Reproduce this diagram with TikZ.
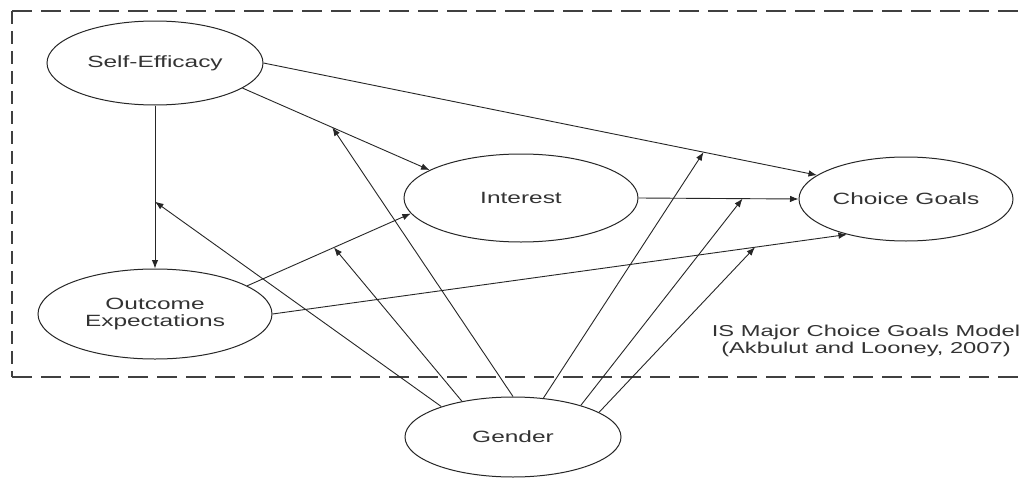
\documentclass[tikz,border=0pt]{standalone}
\usepackage{fontspec}
\setmainfont{Liberation Sans}[FakeStretch=1.5]
\usetikzlibrary{shapes.geometric,arrows.meta}
\begin{document}
\begin{tikzpicture}[x=1pt,y=-1pt,
  ell/.style={ellipse,draw=black!85,line width=1pt,fill=white,inner sep=0pt,align=center,
     font=\fontsize{16.3}{16.5}\selectfont,text=black!80},
  arr/.style={draw=black!85,line width=0.9pt,-{Latex[length=8.5pt,width=6.5pt]}},
  hdash/.style={draw=black!75,line width=2pt,dash pattern=on 20pt off 9pt},
  vdash/.style={draw=black!75,line width=2pt,dash pattern=on 13pt off 7pt},
  lbl/.style={font=\fontsize{15.8}{16.5}\selectfont,text=black!80,align=center,inner sep=0pt}]
\clip (0,0) rectangle (1023,479);
\fill[white] (0,0) rectangle (1023,479);
% dashed frame
\coordinate (ftl) at (12,11);
\coordinate (ftr) at (1050,11);
\coordinate (fbl) at (12,377);
\coordinate (fbr) at (1050,377);
\draw[hdash] (ftl) -- (ftr);
\draw[hdash] (fbl) -- (fbr);
\draw[vdash] (ftl) -- (fbl);
% nodes
\node[ell,minimum width=216pt,minimum height=84pt] (se) at (155,63) {Self-Efficacy};
\node[ell,minimum width=234pt,minimum height=88pt] (int) at (521,198) {Interest};
\node[ell,minimum width=214pt,minimum height=84pt] (cg) at (906,199) {Choice Goals};
\node[ell,minimum width=234pt,minimum height=90pt] (oe) at (155,314) {Outcome\\Expectations};
\node[ell,minimum width=216pt,minimum height=80pt] (gen) at (513,437) {Gender};
\node[lbl,anchor=base] (model) at (866,353) {IS Major Choice Goals Model\\(Akbulut and Looney, 2007)};
% connectors
\draw[arr] (se.south) -- (oe.north) coordinate[pos=0.59] (m1);
\draw[arr] (se.-16) -- (int.163) coordinate[pos=0.48] (m3);
\draw[arr] (se.east) -- (cg.165.5) coordinate[pos=0.795] (m4);
\draw[arr] (int.east) -- (cg.west) coordinate[pos=0.65] (m5);
\draw[arr] (oe.17.3) -- (int.188) coordinate[pos=0.53] (m2);
\draw[arr] (oe.east) -- (cg.211.4) coordinate[pos=0.84] (m6);
% gender moderations
\draw[arr] (gen.157.1) -- (m1);
\draw[arr] (gen.145) -- (m2);
\draw[arr] (gen.north) -- (m3);
\draw[arr] (gen.52.4) -- (m4);
\draw[arr] (gen.25.2) -- (m5);
\draw[arr] (gen.16) -- (m6);
\end{tikzpicture}
\end{document}
